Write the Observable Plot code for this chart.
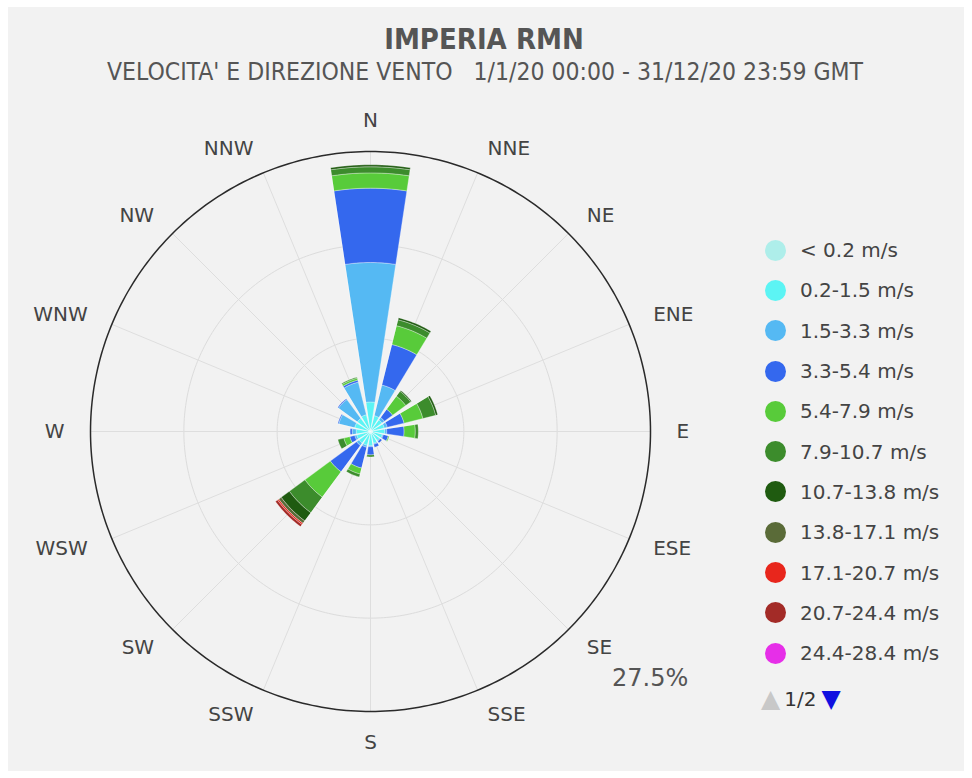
<!DOCTYPE html>
<html>
<head>
<meta charset="utf-8">
<script src="https://cdn.jsdelivr.net/npm/d3@7"></script>
<script src="https://cdn.jsdelivr.net/npm/@observablehq/plot@0.6"></script>
<style>
  html, body { margin: 0; padding: 0; background: #ffffff; }
  #wrap { position: relative; width: 972px; height: 778px; overflow: hidden; background: #ffffff; }
  #panel { position: absolute; left: 8px; top: 7px; width: 956px; height: 764px; background: #f2f2f2; }
  #title { position: absolute; left: 0; top: 22px; width: 968px; text-align: center;
           font-family: "DejaVu Sans Condensed", "DejaVu Sans"; font-stretch: condensed; font-weight: bold; font-size: 29px; color: #555; }
  #subtitle { position: absolute; left: 0; top: 57px; width: 970px; text-align: center; white-space: pre;
           font-family: "DejaVu Sans Condensed", "DejaVu Sans"; font-stretch: condensed; font-size: 24.5px; color: #555; }
  #chart { position: absolute; left: 0; top: 0; }
  #maxlabel { position: absolute; left: 612px; top: 664px; font-family: "DejaVu Sans"; font-size: 24px; color: #555; }
  #legend { position: absolute; left: 765px; top: 230px; font-family: "DejaVu Sans"; font-size: 20px; color: #444; }
  .row { height: 40.3px; display: flex; align-items: center; }
  .dot { width: 21px; height: 21px; border-radius: 50%; margin-right: 14px; }
  #pager { position: absolute; left: 761px; top: 684px; font-family: "DejaVu Sans"; font-size: 20px; color: #333; display: flex; align-items: center; }
</style>
</head>
<body>
<div id="wrap">
  <div id="panel"></div>
  <div id="title">IMPERIA RMN</div>
  <div id="subtitle">VELOCITA' E DIREZIONE VENTO   1/1/20 00:00 - 31/12/20 23:59 GMT</div>
  <div id="chart"></div>
  <div id="maxlabel"></div>
  <div id="legend"></div>
  <div id="pager"><span style="color:#c8c8c8;font-size:25px">&#9650;</span><span style="margin:0 5px 0 4px">1/2</span><span style="color:#1010e0;font-size:25px">&#9660;</span></div>
</div>
<script>
// ---- data ----
const directions = ["N","NNE","NE","ENE","E","ESE","SE","SSE","S","SSW","SW","WSW","W","WNW","NW","NNW"];
const speedClasses = ["< 0.2 m/s","0.2-1.5 m/s","1.5-3.3 m/s","3.3-5.4 m/s","5.4-7.9 m/s","7.9-10.7 m/s",
                      "10.7-13.8 m/s","13.8-17.1 m/s","17.1-20.7 m/s","20.7-24.4 m/s","24.4-28.4 m/s"];
const classColors = ["#aeeeea","#5cf4f4","#55b9f3","#3468ee","#58cb3a","#3c8c2c",
                     "#1f5b10","#5a6b38","#e8261c","#a32b27","#e62fe8"];
// frequency (%) per direction, one array per speed class (order = directions)
const freqBelow02 = [0.3,0.2,0.2,0.2,0.2,0.2,0.2,0.2,0.2,0.2,0.2,0.2,0.2,0.2,0.2,0.2];
const freq02_15   = [2.6,1.4,1.2,1.2,1.2,1.0,0.9,1.0,1.2,1.2,1.2,1.2,1.2,1.4,1.4,1.5];
const freq15_33   = [13.7,3.1,0.3,0.3,0.2,0.1,0.1,0.1,0.1,0.2,0.3,0.2,0.4,1.6,2.3,3.3];
const freq33_54   = [7.3,4.1,1.0,1.7,1.7,0.5,0.2,0.3,0.8,2.1,3.2,0.5,0.2,0.1,0.1,0.2];
const freq54_79   = [1.5,1.9,1.6,1.9,1.1,0.1,0,0,0,0.6,3.1,0.6,0,0,0,0.2];
const freq79_107  = [0.6,0.6,0.6,1.3,0.3,0,0,0,0.2,0.3,1.9,0.6,0,0,0,0.1];
const freq107_138 = [0.2,0.2,0.1,0.2,0,0,0,0,0,0,1.0,0,0,0,0,0];
const freq138_171 = [0,0,0,0,0,0,0,0,0,0,0.3,0,0,0,0,0];
const freq171_207 = [0,0,0,0,0,0,0,0,0,0,0.15,0,0,0,0,0];
const freq207_244 = [0,0,0,0,0,0,0,0,0,0,0.25,0,0,0,0,0];
const freq244_284 = [0,0,0,0,0,0,0,0,0,0,0,0,0,0,0,0];
const freqByClass = [freqBelow02,freq02_15,freq15_33,freq33_54,freq54_79,freq79_107,
                     freq107_138,freq138_171,freq171_207,freq207_244,freq244_284];
const radialMax = 27.5;          // % at outer circle
const gridRings = [9.17, 18.33]; // inner reference circles (%)
const maxLabel = "27.5%";

// ---- geometry helpers (polar -> cartesian in data units) ----
const step = 360 / directions.length;
const halfWidth = 8.6; // degrees of each wedge half-width
const rad = (deg) => deg * Math.PI / 180;
const px = (r, deg) => r * Math.sin(rad(deg));
const py = (r, deg) => r * Math.cos(rad(deg));

const wedgePts = [];
directions.forEach((dir, i) => {
  let r0 = 0;
  freqByClass.forEach((vals, k) => {
    const v = vals[i];
    if (!v) return;
    const r1 = r0 + v;
    const id = dir + "|" + k;
    const a0 = i * step - halfWidth, a1 = i * step + halfWidth, n = 14;
    for (let j = 0; j <= n; j++) { const a = a0 + (a1 - a0) * j / n; wedgePts.push({id, cls: speedClasses[k], x: px(r1, a), y: py(r1, a)}); }
    for (let j = n; j >= 0; j--) { const a = a0 + (a1 - a0) * j / n; wedgePts.push({id, cls: speedClasses[k], x: px(r0, a), y: py(r0, a)}); }
    r0 = r1;
  });
});

const circlePts = (radii) => radii.flatMap((r) => d3.range(0, 360, 1).map((a) => ({ring: r, x: px(r, a), y: py(r, a)})));

const sideR = 30.05, axisR = 30.55;
const labelFont = {fill: "#444", fontSize: 20, fontFamily: "DejaVu Sans"};

const chart = Plot.plot({
  width: 972,
  height: 778,
  marginLeft: 90,
  marginRight: 322,
  marginTop: 151,
  marginBottom: 67,
  x: {domain: [-radialMax, radialMax], axis: null},
  y: {domain: [-radialMax, radialMax], axis: null},
  color: {domain: speedClasses, range: classColors},
  style: {background: "transparent", overflow: "visible"},
  marks: [
    Plot.line(circlePts(gridRings), {x: "x", y: "y", z: "ring", stroke: "#dcdcdc", strokeWidth: 1, curve: "linear-closed"}),
    Plot.link(directions, {x1: () => 0, y1: () => 0,
      x2: (d, i) => px(radialMax, i * step), y2: (d, i) => py(radialMax, i * step),
      stroke: "#dedede", strokeWidth: 1}),
    Plot.line(wedgePts, {x: "x", y: "y", z: "id", fill: "cls", stroke: "#ffffff", strokeOpacity: 0.55, strokeWidth: 0.6, curve: "linear-closed"}),
    Plot.line(circlePts([radialMax]), {x: "x", y: "y", z: "ring", stroke: "#2a2a2a", strokeWidth: 1.5, curve: "linear-closed"}),
    // N and S: centred
    Plot.text(directions, {filter: (d, i) => i % 8 === 0,
      x: (d, i) => px(axisR, i * step), y: (d, i) => py(axisR, i * step), text: (d) => d,
      textAnchor: "middle", ...labelFont}),
    // east side: left-anchored
    Plot.text(directions, {filter: (d, i) => i > 0 && i < 8,
      x: (d, i) => px(sideR, i * step), y: (d, i) => py(sideR, i * step), text: (d) => d,
      textAnchor: "start", ...labelFont}),
    // west side: right-anchored
    Plot.text(directions, {filter: (d, i) => i > 8,
      x: (d, i) => px(sideR, i * step), y: (d, i) => py(sideR, i * step), text: (d) => d,
      textAnchor: "end", ...labelFont})
  ]
});
document.getElementById("chart").appendChild(chart);
document.getElementById("maxlabel").textContent = maxLabel;

const legend = document.getElementById("legend");
speedClasses.forEach((c, k) => {
  const row = document.createElement("div");
  row.className = "row";
  const dot = document.createElement("div");
  dot.className = "dot";
  dot.style.background = classColors[k];
  const lab = document.createElement("span");
  lab.textContent = c;
  row.appendChild(dot);
  row.appendChild(lab);
  legend.appendChild(row);
});
</script>
</body>
</html>
